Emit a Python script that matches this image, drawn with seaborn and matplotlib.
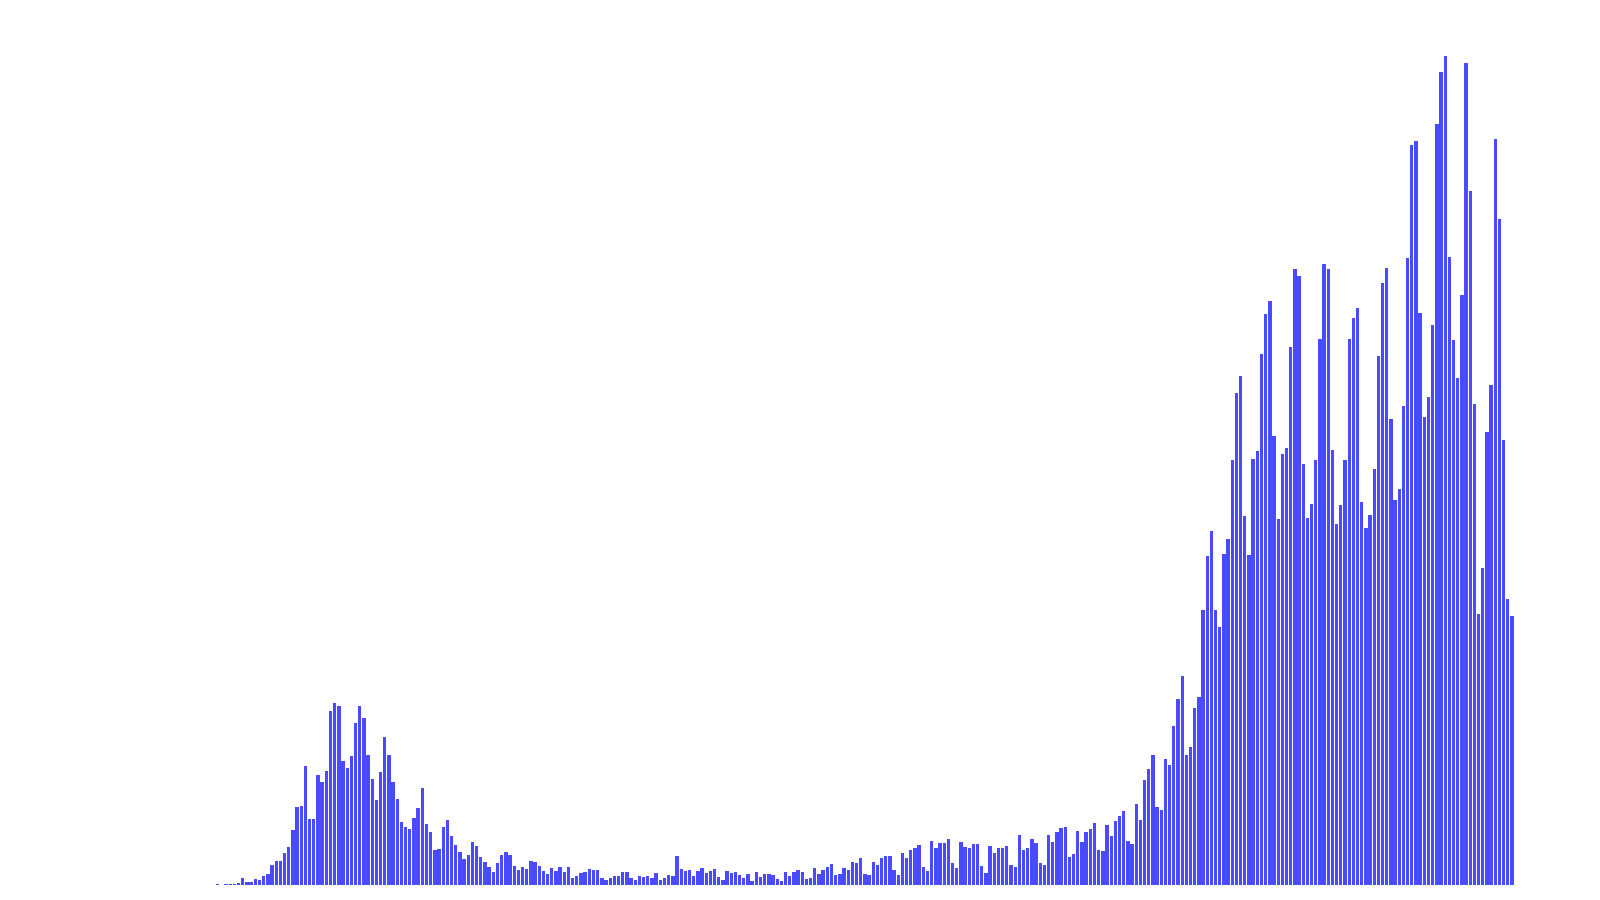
import numpy as np
import pandas as pd
import matplotlib
matplotlib.use("Agg")
import matplotlib.pyplot as plt
import seaborn as sns

# Daily values (one value per bar, left to right)
first_wave = [1, 0, 1, 1, 1, 2, 7, 3, 3, 6, 5, 9, 11, 20, 24, 24, 32, 38, 55, 78,
              79, 119, 66, 66, 110, 103, 114, 174, 182, 179, 124, 117, 129, 162, 179,
              167, 130, 106, 85, 113, 148, 130, 103, 86, 63, 58, 56, 67, 77, 97,
              61, 53, 35, 36, 58]
decline = [65, 49, 40, 33, 26, 30, 43, 39, 28, 23, 18, 13, 22, 30, 33, 30, 19, 15,
           18, 16, 24, 23, 19, 14, 11, 17, 14, 18, 13, 18, 7, 9, 12, 13, 16, 15, 15,
           7, 5, 7, 9, 9, 13, 13, 7, 5, 9, 8, 9, 7, 12, 5, 7, 10, 9, 29]
lull = [16, 14, 15, 9, 14, 17, 12, 14, 16, 8, 5, 14, 12, 13, 10, 7, 11, 4, 13, 8,
        11, 11, 10, 6, 4, 13, 9, 13, 15, 13, 6, 7, 17, 11, 15, 18, 21, 10, 11, 17,
        15, 23, 22, 27, 11, 10, 23, 20, 27, 29, 29, 15, 10, 32, 27]
slow_rise = [35, 37, 40, 18, 14, 44, 37, 42, 42, 46, 22, 17, 43, 38, 37, 41, 41, 19,
             12, 39, 32, 37, 37, 39, 20, 18, 50, 35, 37, 46, 42, 22, 20, 50, 43, 53,
             57, 58, 28, 31, 54, 43, 53, 56, 62, 35, 34, 60, 49, 64, 69, 74, 44, 41,
             81, 65]
surge = [105, 116, 130, 78, 75, 126, 120, 159, 186, 209, 130, 138, 177, 188, 275,
         329, 354, 275, 258, 331, 346, 425, 492, 509, 369, 330, 426, 434, 531, 571, 584]
plateau = [449, 366, 431, 437, 538, 616, 609, 421, 367, 381, 425, 546, 621, 616,
           435, 361, 380, 425, 546, 567, 577, 383, 357, 370, 416, 529, 602]
peak = [617, 466, 385, 396, 479, 627, 740, 744, 572, 468, 488, 560, 761, 813, 829,
        628, 545, 507, 590, 822, 694, 481, 271, 317, 453, 500, 746, 666, 445, 286, 269]

values = first_wave + decline + lull + slow_rise + surge + plateau + peak
df = pd.DataFrame({"day": np.arange(len(values)), "value": values})

fig = plt.figure(figsize=(16, 9), dpi=100)
ax = fig.add_axes([0.1348, 0.01667, 0.8115, 0.9389])

sns.barplot(data=df, x="day", y="value", color="#4a4aff", saturation=1,
            width=0.8, ax=ax)

ax.set_ylim(0, 845)
ax.set_xlim(-0.5, len(values) - 0.5)
ax.set_axis_off()

fig.savefig("out.png", dpi=100, facecolor="white")
